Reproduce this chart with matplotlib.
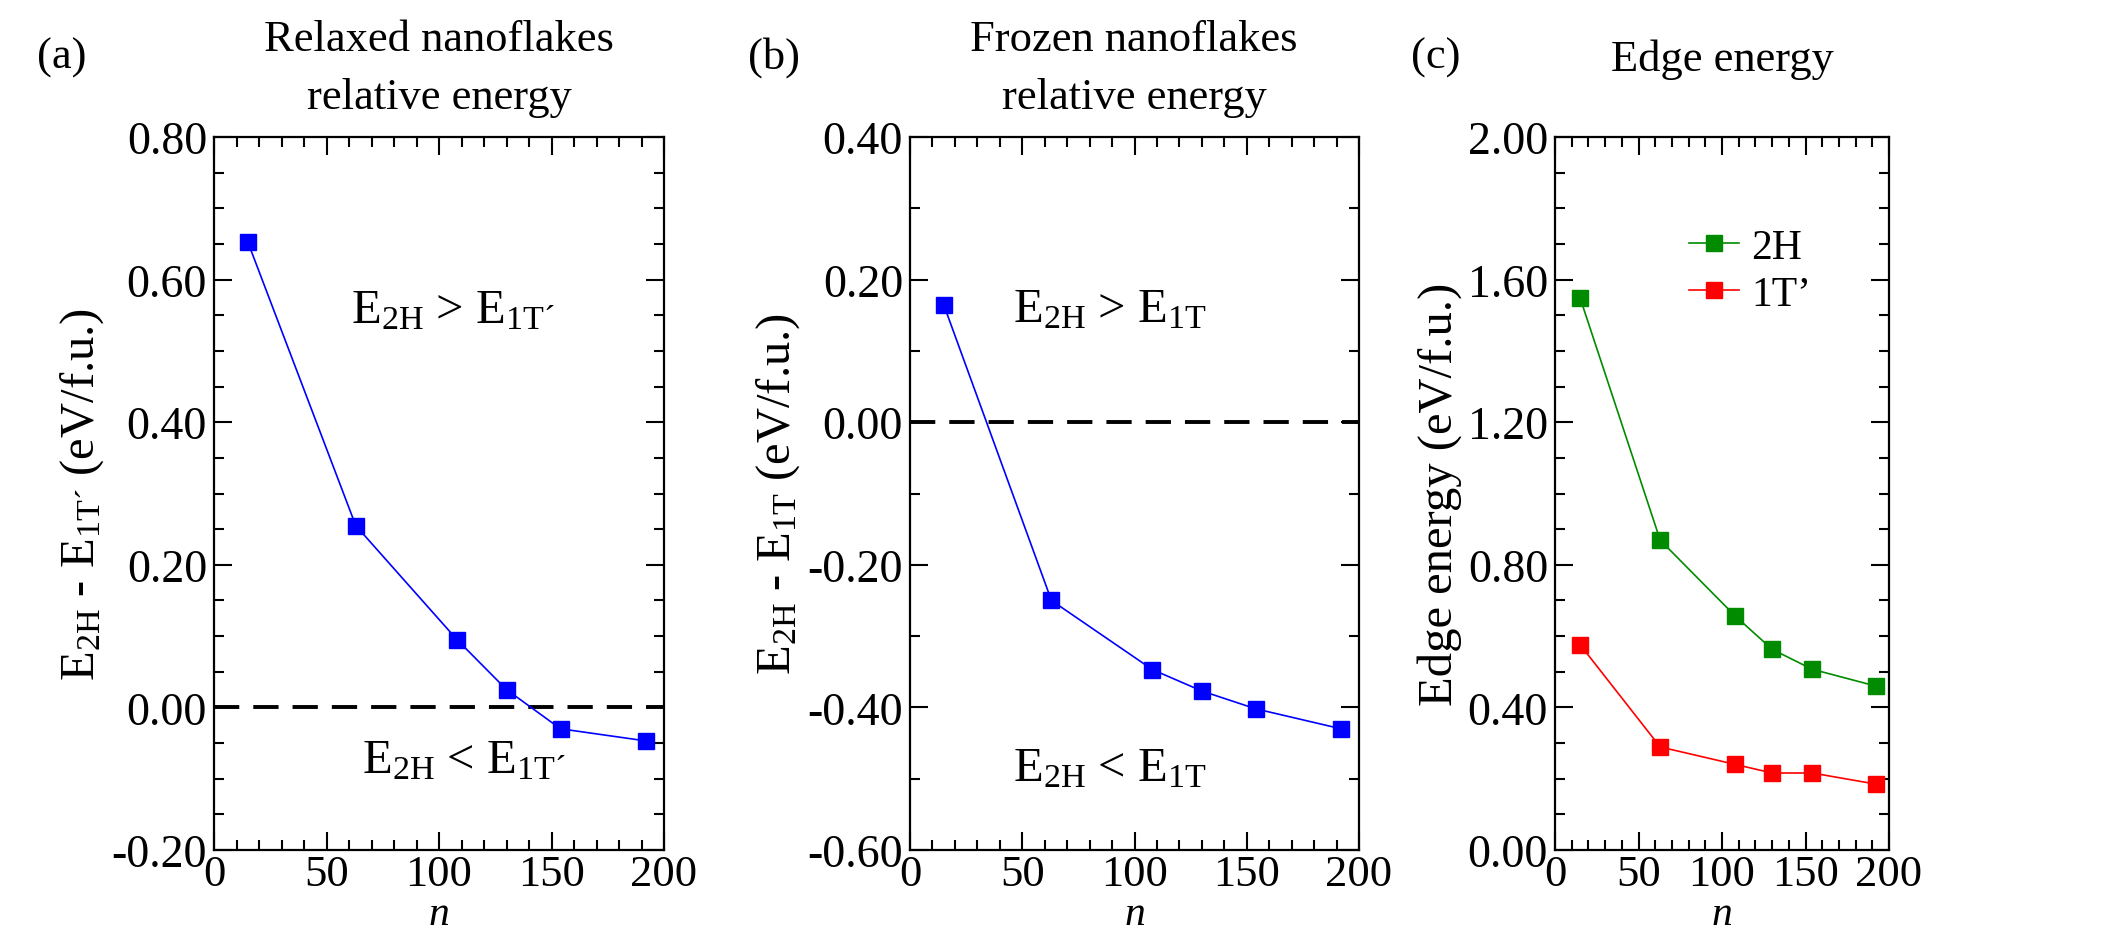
import matplotlib
matplotlib.use("Agg")
import matplotlib.pyplot as plt
from matplotlib.ticker import MultipleLocator, FormatStrFormatter

plt.rcParams['font.family'] = ['Liberation Serif', 'DejaVu Serif']
plt.rcParams['mathtext.fontset'] = 'custom'
plt.rcParams['mathtext.rm'] = 'Liberation Serif'
plt.rcParams['mathtext.it'] = 'Liberation Serif:italic'

# ---- data ----
n_vals = [15, 63, 108, 130, 154, 192]
relaxed_diff = [0.653, 0.255, 0.095, 0.025, -0.030, -0.047]
frozen_diff = [0.165, -0.250, -0.347, -0.377, -0.402, -0.430]
edge_2h = [1.549, 0.869, 0.656, 0.563, 0.507, 0.460]
edge_1t = [0.576, 0.289, 0.240, 0.216, 0.216, 0.185]

titles = [["Relaxed nanoflakes", "relative energy"],
          ["Frozen nanoflakes", "relative energy"],
          ["Edge energy"]]
panel_tags = ["(a)", "(b)", "(c)"]
ylabels = ["E$_{\\mathrm{2H}}$ - E$_{\\mathrm{1T\u00b4}}$ (eV/f.u.)",
           "E$_{\\mathrm{2H}}$ - E$_{\\mathrm{1T}}$ (eV/f.u.)",
           "Edge energy (eV/f.u.)"]
legend_labels = ["2H", "1T\u2019"]

FS_TICK = 33
FS_TITLE = 32
FS_LAB = 35
FS_ANN = 35
W, H = 2102, 937
fig = plt.figure(figsize=(W/100, H/100), dpi=100)

def ax_at(x0, x1, y0, y1):
    return fig.add_axes([x0/W, 1-y1/H, (x1-x0)/W, (y1-y0)/H])

axa = ax_at(214, 664, 138, 851)
axb = ax_at(910, 1359, 138, 851)
axc = ax_at(1555, 1889, 138, 851)

def style(ax, ylim, major, minor):
    ax.set_xlim(0, 200)
    ax.set_ylim(*ylim)
    ax.xaxis.set_major_locator(MultipleLocator(50))
    ax.xaxis.set_minor_locator(MultipleLocator(10))
    ax.yaxis.set_major_locator(MultipleLocator(major))
    ax.yaxis.set_minor_locator(MultipleLocator(minor))
    ax.yaxis.set_major_formatter(FormatStrFormatter('%.2f'))
    ax.tick_params(which='both', direction='in', top=True, right=True, width=1.5)
    ax.tick_params(axis='y', labelsize=FS_TICK, pad=5)
    ax.tick_params(axis='x', labelsize=32, pad=3)
    ax.tick_params(which='major', length=13)
    ax.tick_params(which='minor', length=7)
    for s in ax.spines.values():
        s.set_linewidth(1.6)
    ax.set_xlabel('$\\mathit{n}$', fontsize=30, labelpad=0)

style(axa, (-0.2, 0.8), 0.2, 0.05)
style(axb, (-0.6, 0.4), 0.2, 0.1)
style(axc, (0.0, 2.0), 0.4, 0.1)

mk = dict(marker='s', markersize=12, linewidth=1.2)
dash = (0, (6.5, 3.6))
axa.plot(n_vals, relaxed_diff, color='#0000ff', **mk)
axb.plot(n_vals, frozen_diff, color='#0000ff', **mk)
axa.axhline(0, color='black', linestyle=dash, linewidth=2.8, zorder=1)
axb.axhline(0, color='black', linestyle=dash, linewidth=2.8, zorder=1)
axc.plot(n_vals, edge_2h, color='#008b00', label=legend_labels[0], **mk)
axc.plot(n_vals, edge_1t, color='#ff0000', label=legend_labels[1], **mk)

axa.text(106, 0.557, "E$_{\\mathrm{2H}}$ > E$_{\\mathrm{1T\u00b4}}$", fontsize=FS_ANN, ha='center', va='center')
axa.text(111, -0.075, "E$_{\\mathrm{2H}}$ < E$_{\\mathrm{1T\u00b4}}$", fontsize=FS_ANN, ha='center', va='center')
axb.text(89, 0.158, "E$_{\\mathrm{2H}}$ > E$_{\\mathrm{1T}}$", fontsize=FS_ANN, ha='center', va='center')
axb.text(89, -0.485, "E$_{\\mathrm{2H}}$ < E$_{\\mathrm{1T}}$", fontsize=FS_ANN, ha='center', va='center')

leg = axc.legend(loc='center left', bbox_to_anchor=(0.40, 0.812), frameon=False, fontsize=30,
                 handlelength=1.2, handletextpad=0.3, labelspacing=0.2, borderpad=0, borderaxespad=0)

for ax, yl in zip([axa, axb, axc], ylabels):
    ax.set_ylabel(yl, fontsize=FS_LAB, labelpad=4)

# titles (figure pixel coords)
def ftext(x, y, s, **kw):
    fig.text(x/W, 1-y/H, s, ha='center', va='center', **kw)

centers = [439, 1134, 1722]
for cx, tl in zip(centers, titles):
    if len(tl) == 2:
        ftext(cx, 40, tl[0], fontsize=FS_TITLE)
        ftext(cx, 98, tl[1], fontsize=FS_TITLE)
    else:
        ftext(cx, 60, tl[0], fontsize=FS_TITLE)

ftext(62, 58, panel_tags[0], fontsize=FS_TITLE)
ftext(774, 58, panel_tags[1], fontsize=FS_TITLE)
ftext(1436, 58, panel_tags[2], fontsize=FS_TITLE)

fig.savefig("out.png", dpi=100)
